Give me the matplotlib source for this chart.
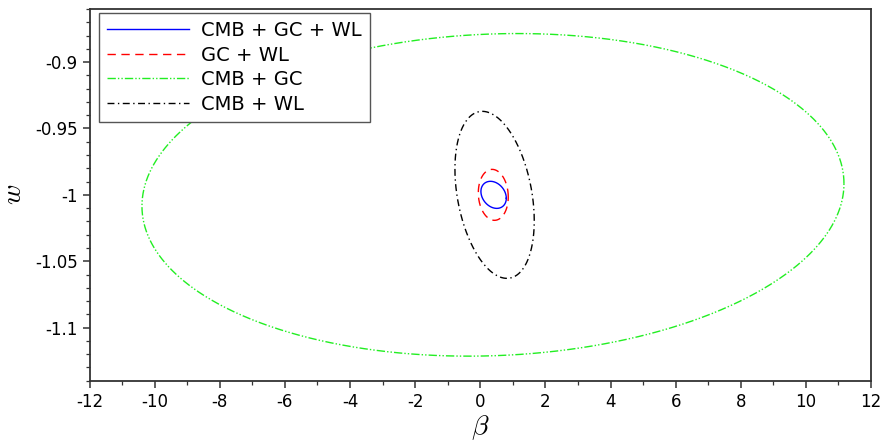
import numpy as np
import matplotlib
matplotlib.use("Agg")
import matplotlib.pyplot as plt
from matplotlib.ticker import MultipleLocator, FuncFormatter

plt.rcParams["axes.unicode_minus"] = False
plt.rcParams["mathtext.fontset"] = "cm"

# Confidence contours in the (beta, w) plane:
# centre, half-extent in beta, half-extent in w, correlation
labels = ["CMB + GC + WL", "GC + WL", "CMB + GC", "CMB + WL"]
center_beta = [0.41, 0.40, 0.39, 0.44]
center_w = [-1.0, -1.0, -1.0, -1.0]
half_beta = [0.39, 0.46, 10.78, 1.218]
half_w = [0.0102, 0.0192, 0.1215, 0.0629]
corr = [-0.25, -0.08, 0.07, -0.31]

colors = ["#0000ff", "#ff0000", "#22ee22", "#000000"]
styles = ["-", (0, (6, 4)), (0, (6, 1.5, 1, 1.5, 1, 1.5)), (0, (5, 2.5, 1, 2.5))]

fig = plt.figure(figsize=(8.83, 4.47), dpi=100)
ax = fig.add_axes([0.1014, 0.1483, 0.885, 0.8316])

t = np.linspace(0, 2 * np.pi, 721)
for cb, cw, hb, hw, r, c, ls, lab in zip(center_beta, center_w, half_beta,
                                         half_w, corr, colors, styles, labels):
    xb = cb + hb * np.cos(t)
    yw = cw + hw * (r * np.cos(t) + np.sqrt(1 - r * r) * np.sin(t))
    ax.plot(xb, yw, color=c, linestyle=ls, linewidth=1.0, label=lab)

ax.set_xlim(-12, 12)
ax.set_ylim(-1.14, -0.86)
ax.xaxis.set_major_locator(MultipleLocator(2))
ax.xaxis.set_minor_locator(MultipleLocator(1))
ax.yaxis.set_major_locator(MultipleLocator(0.05))
ax.yaxis.set_minor_locator(MultipleLocator(0.01))
fmt = FuncFormatter(lambda v, p: "%g" % round(v, 4))
ax.xaxis.set_major_formatter(fmt)
ax.yaxis.set_major_formatter(fmt)

for s in ax.spines.values():
    s.set_color("#333333")
    s.set_linewidth(1.3)
ax.tick_params(which="both", direction="out", colors="#333333",
               labelcolor="black", top=False, right=False)
ax.tick_params(which="major", length=5, width=1.1, labelsize=12)
ax.tick_params(which="minor", length=3, width=0.9)

ax.set_xlabel(r"$\beta$", fontsize=20, labelpad=2)
ax.set_ylabel(r"$w$", fontsize=20, labelpad=6)

leg = ax.legend(loc="upper left", bbox_to_anchor=(0.012, 0.989),
                fontsize=14, handlelength=4.2,
                fancybox=False, framealpha=1, edgecolor="#555555",
                borderaxespad=0.0, labelspacing=0.28, handletextpad=0.65,
                borderpad=0.42)
leg.get_frame().set_linewidth(1.0)

fig.savefig("out.png", dpi=100)
